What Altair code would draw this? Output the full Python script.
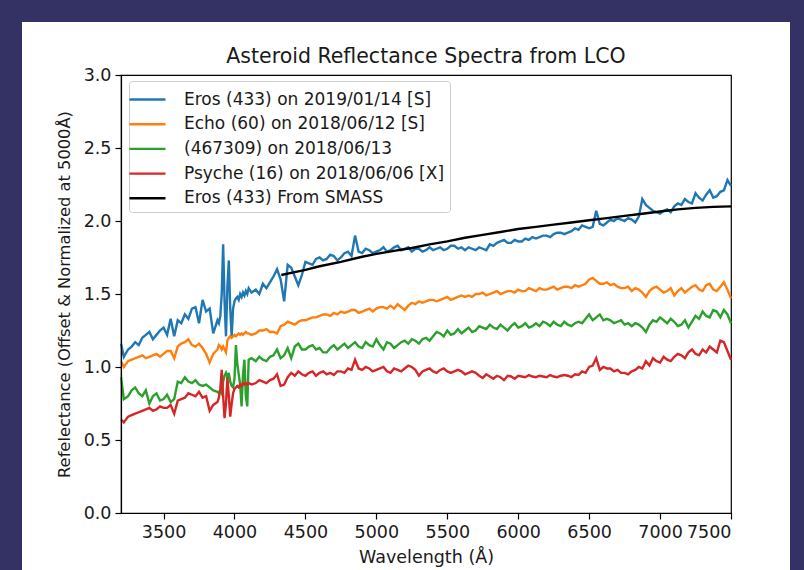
import altair as alt
import pandas as pd

# ---------------- data ----------------
wavelength = [3200, 3220, 3250, 3300, 3350, 3400, 3450, 3500, 3550, 3600, 3650, 3700, 3750, 3800, 3850,
              3880, 3890, 3900, 3910, 3920, 3930, 3940, 3950, 3960, 3970, 3980, 3990, 4000, 4010, 4020,
              4030, 4040, 4050, 4060, 4070, 4080, 4090, 4100,
              4120,
              4150, 4200, 4250, 4300, 4350, 4400, 4450, 4500, 4550, 4600,
              4650, 4700, 4750, 4800, 4850, 4900, 4950, 5000, 5050, 5100,
              5150, 5200, 5250, 5300, 5350, 5400, 5450, 5500, 5550, 5600,
              5650, 5700, 5750, 5800, 5850, 5900, 5950, 6000, 6050, 6100,
              6150, 6200, 6250, 6300, 6350, 6400, 6450, 6500, 6550, 6600,
              6650, 6700, 6750, 6800, 6850, 6900, 6950, 7000, 7050, 7100,
              7150, 7200, 7250, 7300, 7350, 7400, 7450, 7500]

eros = [1.16, 1.07, 1.12, 1.17, 1.20, 1.24, 1.22, 1.27, 1.33, 1.32, 1.36, 1.40, 1.30, 1.38, 1.23,
        1.32, 1.30, 1.35, 1.50, 1.84, 1.45, 1.21, 1.55, 1.73, 1.40, 1.21, 1.40, 1.45, 1.47, 1.48,
        1.46, 1.50, 1.48, 1.51, 1.49, 1.52, 1.50, 1.54,
        1.51,
        1.53, 1.57, 1.58, 1.67, 1.45, 1.68, 1.56, 1.72, 1.70, 1.75,
        1.74, 1.76, 1.75, 1.79, 1.90, 1.78, 1.80, 1.79, 1.82, 1.80,
        1.83, 1.81, 1.79, 1.81, 1.80, 1.80, 1.82, 1.81, 1.83, 1.82,
        1.82, 1.80, 1.81, 1.84, 1.85, 1.87, 1.85, 1.86, 1.88, 1.89,
        1.89, 1.90, 1.91, 1.92, 1.92, 1.95, 1.97, 1.95, 2.07, 1.97,
        2.01, 2.02, 2.00, 2.01, 2.03, 2.11, 2.07, 2.05, 2.08, 2.10,
        2.11, 2.13, 2.19, 2.14, 2.21, 2.17, 2.21, 2.24]

echo = [1.04, 1.00, 1.04, 1.06, 1.08, 1.07, 1.09, 1.09, 1.11, 1.14, 1.17, 1.15, 1.16, 1.09, 1.09,
        1.12, 1.15, 1.14, 1.12, 1.14, 1.12, 1.10, 1.18, 1.20, 1.21, 1.20, 1.21, 1.22, 1.21, 1.22,
        1.23, 1.22, 1.23, 1.22, 1.23, 1.24, 1.23, 1.23,
        1.22,
        1.23, 1.25, 1.24, 1.23, 1.29, 1.30, 1.31, 1.32, 1.34, 1.35,
        1.36, 1.37, 1.38, 1.38, 1.39, 1.38, 1.40, 1.40, 1.41, 1.42,
        1.43, 1.39, 1.44, 1.45, 1.45, 1.46, 1.46, 1.48, 1.47, 1.49,
        1.49, 1.50, 1.51, 1.50, 1.52, 1.51, 1.52, 1.53, 1.52, 1.53,
        1.54, 1.53, 1.55, 1.54, 1.55, 1.56, 1.56, 1.60, 1.59, 1.57,
        1.56, 1.55, 1.54, 1.52, 1.53, 1.48, 1.54, 1.53, 1.52, 1.49,
        1.54, 1.53, 1.56, 1.52, 1.57, 1.52, 1.58, 1.47]

ast_467309 = [0.93, 0.78, 0.80, 0.86, 0.80, 0.75, 0.82, 0.78, 0.76, 0.90, 0.93, 0.89, 0.88, 0.88, 0.84,
              0.83, 0.82, 0.84, 0.82, 0.90, 0.94, 0.96, 0.93, 0.96, 0.90, 0.87, 0.86, 0.92, 1.15, 1.02,
              0.95, 0.88, 0.73, 0.95, 1.05, 0.80, 0.73, 1.05,
              1.06,
              1.04, 1.05, 1.07, 1.12, 1.08, 1.06, 1.16, 1.12, 1.15, 1.13,
              1.10, 1.15, 1.14, 1.13, 1.17, 1.13, 1.15, 1.19, 1.12, 1.16,
              1.15, 1.18, 1.19, 1.16, 1.20, 1.21, 1.23, 1.25, 1.23, 1.23,
              1.27, 1.25, 1.27, 1.29, 1.26, 1.27, 1.28, 1.27, 1.30, 1.28,
              1.28, 1.30, 1.31, 1.28, 1.29, 1.30, 1.30, 1.36, 1.34, 1.32,
              1.32, 1.31, 1.29, 1.28, 1.29, 1.24, 1.32, 1.34, 1.30, 1.31,
              1.29, 1.27, 1.35, 1.38, 1.34, 1.38, 1.39, 1.30]

psyche = [0.64, 0.62, 0.66, 0.68, 0.70, 0.72, 0.71, 0.72, 0.74, 0.77, 0.79, 0.81, 0.83, 0.80, 0.74,
          0.76, 0.79, 0.85, 0.98, 0.80, 0.65, 0.75, 0.93, 0.80, 0.66, 0.75, 0.82, 0.85, 0.86, 0.87,
          0.86, 0.88, 0.87, 0.89, 0.88, 0.89, 0.88, 0.89,
          0.88,
          0.89, 0.90, 0.91, 0.95, 0.88, 0.96, 0.97, 0.94, 0.97, 0.96,
          0.95, 0.945, 0.97, 0.99, 1.05, 0.98, 0.99, 0.98, 1.00, 0.96,
          0.98, 0.99, 1.00, 0.94, 0.98, 0.97, 0.98, 0.97, 0.97, 0.97,
          0.96, 0.96, 0.925, 0.935, 0.94, 0.91, 0.935, 0.94, 0.93, 0.935,
          0.94, 0.93, 0.935, 0.94, 0.94, 0.95, 0.97, 1.00, 1.06, 1.00,
          0.99, 0.98, 0.96, 0.97, 1.00, 1.04, 1.06, 1.03, 1.05, 1.07,
          1.08, 1.10, 1.09, 1.12, 1.14, 1.10, 1.17, 1.05]

# in-between samples (the fine jitter of the spectra)
mid_wavelength = [3275, 3325, 3375, 3425, 3475, 3525, 3575, 3625, 3675, 3725, 3775, 3825,
                  4175, 4225, 4275, 4325, 4375, 4425, 4475, 4525, 4575, 4625,
                  4675, 4725, 4775, 4825, 4875, 4925, 4975, 5025, 5075, 5125,
                  5175, 5225, 5275, 5325, 5375, 5425, 5475, 5525, 5575, 5625,
                  5675, 5725, 5775, 5825, 5875, 5925, 5975, 6025, 6075, 6125,
                  6175, 6225, 6275, 6325, 6375, 6425, 6475, 6525, 6575, 6625,
                  6675, 6725, 6775, 6825, 6875, 6925, 6975, 7025, 7075, 7125,
                  7175, 7225, 7275, 7325, 7375, 7425, 7475]

eros_mid = [1.14, 1.15, 1.22, 1.19, 1.25, 1.22, 1.21, 1.30, 1.33, 1.41, 1.46, 1.40,
            1.50, 1.54, 1.62, 1.60, 1.70, 1.62, 1.63, 1.71, 1.74, 1.73,
            1.77, 1.73, 1.78, 1.76, 1.79, 1.81, 1.78, 1.80, 1.79, 1.82,
            1.80, 1.82, 1.81, 1.79, 1.82, 1.81, 1.80, 1.83, 1.81, 1.80,
            1.81, 1.82, 1.80, 1.83, 1.86, 1.85, 1.87, 1.86, 1.87, 1.88,
            1.90, 1.89, 1.92, 1.91, 1.93, 1.94, 1.96, 1.96, 1.98, 1.99,
            2.00, 2.01, 2.02, 1.99, 2.15, 2.09, 2.06, 2.07, 2.06, 2.12,
            2.15, 2.12, 2.16, 2.18, 2.16, 2.20, 2.28]

echo_mid = [1.05, 1.07, 1.06, 1.08, 1.07, 1.11, 1.06, 1.16, 1.19, 1.14, 1.13, 1.03,
            1.25, 1.26, 1.24, 1.28, 1.31, 1.29, 1.32, 1.33, 1.34, 1.36,
            1.35, 1.36, 1.37, 1.39, 1.37, 1.39, 1.38, 1.41, 1.40, 1.40,
            1.41, 1.42, 1.43, 1.44, 1.46, 1.45, 1.47, 1.46, 1.48, 1.48,
            1.48, 1.50, 1.49, 1.51, 1.50, 1.52, 1.51, 1.52, 1.54, 1.52,
            1.53, 1.54, 1.53, 1.55, 1.54, 1.55, 1.57, 1.61, 1.57, 1.58,
            1.57, 1.54, 1.55, 1.54, 1.51, 1.52, 1.55, 1.51, 1.54, 1.52,
            1.51, 1.55, 1.53, 1.56, 1.53, 1.55, 1.53]

ast_467309_mid = [0.84, 0.82, 0.84, 0.80, 0.77, 0.81, 0.78, 0.89, 0.90, 0.91, 0.87, 0.86,
                  1.07, 1.04, 1.08, 1.06, 1.13, 1.14, 1.12, 1.14, 1.12, 1.10,
                  1.13, 1.12, 1.16, 1.15, 1.14, 1.17, 1.14, 1.15, 1.17, 1.13,
                  1.17, 1.16, 1.18, 1.19, 1.18, 1.24, 1.21, 1.22, 1.26, 1.25,
                  1.24, 1.28, 1.26, 1.27, 1.29, 1.25, 1.30, 1.28, 1.27, 1.30,
                  1.31, 1.28, 1.29, 1.31, 1.28, 1.31, 1.33, 1.32, 1.36, 1.33,
                  1.30, 1.32, 1.30, 1.30, 1.27, 1.29, 1.31, 1.32, 1.33, 1.28,
                  1.32, 1.31, 1.33, 1.35, 1.39, 1.34, 1.36]

psyche_mid = [0.67, 0.69, 0.71, 0.70, 0.73, 0.72, 0.68, 0.78, 0.82, 0.80, 0.79, 0.70,
              0.91, 0.89, 0.92, 0.87, 0.93, 0.94, 0.95, 0.96, 0.94, 0.97,
              0.96, 0.97, 0.96, 0.98, 0.99, 1.00, 0.97, 0.99, 0.97, 0.99,
              0.97, 1.01, 0.98, 0.97, 0.99, 0.96, 0.99, 0.96, 0.98, 0.95,
              0.97, 0.94, 0.95, 0.92, 0.93, 0.94, 0.92, 0.935, 0.945, 0.93,
              0.935, 0.945, 0.93, 0.945, 0.93, 0.945, 0.96, 1.01, 0.98, 0.99,
              0.97, 0.96, 0.95, 0.98, 0.99, 1.01, 1.04, 1.07, 1.04, 1.09,
              1.06, 1.12, 1.08, 1.10, 1.12, 1.18, 1.11]

smass_wavelength = [4330, 4400, 4500, 4600, 4750, 4900, 5000, 5125, 5250, 5375, 5500, 5625,
                    5750, 5875, 6000, 6125, 6250, 6375, 6500, 6625, 6750, 6875, 7000, 7125,
                    7250, 7375, 7500]
smass_eros = [1.63, 1.645, 1.665, 1.69, 1.72, 1.755, 1.775, 1.795, 1.815, 1.84, 1.86, 1.885,
              1.905, 1.925, 1.945, 1.96, 1.975, 1.99, 2.005, 2.02, 2.035, 2.05, 2.065, 2.08,
              2.09, 2.097, 2.10]

series_names = ["Eros (433) on 2019/01/14 [S]", "Echo (60) on 2018/06/12 [S]",
                "(467309) on 2018/06/13", "Psyche (16) on 2018/06/06 [X]",
                "Eros (433) From SMASS"]
series_colors = ["#1f77b4", "#ff7f0e", "#2ca02c", "#d62728", "#000000"]

x_ticks = [3500, 4000, 4500, 5000, 5500, 6000, 6500, 7000, 7500]
y_ticks = [0.0, 0.5, 1.0, 1.5, 2.0, 2.5, 3.0]

for s in (eros, echo, ast_467309, psyche):
    assert len(s) == len(wavelength), len(s)
for s in (eros_mid, echo_mid, ast_467309_mid, psyche_mid):
    assert len(s) == len(mid_wavelength), len(s)
assert len(smass_eros) == len(smass_wavelength)

# ---------------- tables ----------------
rows = []
pairs = [(eros, eros_mid), (echo, echo_mid), (ast_467309, ast_467309_mid), (psyche, psyche_mid)]
for k, (main_vals, mid_vals) in enumerate(pairs):
    for w, v in zip(wavelength, main_vals):
        rows.append({"wavelength": w, "value": v, "series": series_names[k], "k": k})
    for w, v in zip(mid_wavelength, mid_vals):
        rows.append({"wavelength": w, "value": v, "series": series_names[k], "k": k})
lco = pd.DataFrame(rows).sort_values(["k", "wavelength"])
smass = pd.DataFrame({"wavelength": smass_wavelength, "value": smass_eros,
                      "series": series_names[4], "k": 4})

FONT = "DejaVu Sans"
FS = 17.5
W, H = 610, 438
PAD_L, PAD_T, PAD_R, PAD_B = 121, 75, 73, 57
NAVY = "#343264"

color = alt.Color(
    "series:N",
    scale=alt.Scale(domain=series_names, range=series_colors),
    legend=alt.Legend(
        title=None, orient="none", legendX=8, legendY=6,
        symbolType="M-1.5,0H1.5", symbolSize=576, symbolStrokeWidth=2.4,
        labelOffset=23, rowPadding=2.7, padding=5,
        fillColor="white", strokeColor="#cccccc", cornerRadius=3,
        labelFont=FONT, labelFontSize=17, labelColor="#1a1a1a", labelLimit=0,
        zindex=1,
    ),
)

x_enc = alt.X(
    "wavelength:Q",
    scale=alt.Scale(domain=[3200, 7500], nice=False, zero=False),
    axis=alt.Axis(values=x_ticks, title="Wavelength (Å)", grid=False, format="d",
                  tickSize=6, labelPadding=4, titlePadding=8, zindex=1),
)
y_enc = alt.Y(
    "value:Q",
    scale=alt.Scale(domain=[0, 3], nice=False, zero=False),
    axis=alt.Axis(values=y_ticks, format=".1f", grid=False,
                  title="Refelectance (Offset & Normalized at 5000Å)", titleFontSize=16.3,
                  tickSize=6, labelPadding=4, titlePadding=11, zindex=1),
)

lines = alt.Chart(lco).mark_line(strokeWidth=2.4).encode(
    x=x_enc, y=y_enc, color=color, detail="k:O"
)
smass_line = alt.Chart(smass).mark_line(strokeWidth=2.4).encode(
    x="wavelength:Q", y="value:Q", color=color
)

# dark frame around the white figure (decoration)
left_strip = alt.Chart(alt.Data(values=[{}])).mark_rect(color=NAVY).encode(
    x=alt.value(-PAD_L), x2=alt.value(-PAD_L + 22), y=alt.value(-PAD_T), y2=alt.value(H + PAD_B))
top_strip = alt.Chart(alt.Data(values=[{}])).mark_rect(color=NAVY).encode(
    x=alt.value(-PAD_L), x2=alt.value(W + PAD_R), y=alt.value(-PAD_T), y2=alt.value(-PAD_T + 22))
right_strip = alt.Chart(alt.Data(values=[{}])).mark_rect(color=NAVY).encode(
    x=alt.value(669), x2=alt.value(W + PAD_R), y=alt.value(-PAD_T), y2=alt.value(H + PAD_B))

chart = alt.layer(lines, smass_line, left_strip, top_strip, right_strip).properties(
    width=W, height=H,
    padding={"left": PAD_L, "top": PAD_T, "right": PAD_R, "bottom": PAD_B},
    autosize=alt.AutoSizeParams(type="none"),
    background="white",
    title=alt.TitleParams("Asteroid Reflectance Spectra from LCO", font=FONT, fontSize=20.5,
                          fontWeight="normal", color="#1a1a1a", offset=-67, frame="group",
                          anchor="middle", zindex=1),
).configure_view(
    stroke="black", strokeWidth=1.2
).configure_axis(
    labelFont=FONT, titleFont=FONT, labelFontSize=FS, titleFontSize=FS,
    titleFontWeight="normal", labelColor="#1a1a1a", titleColor="#1a1a1a",
    domainColor="black", tickColor="black", domainWidth=1.2, tickWidth=1.2,
)

chart.save("out.html", embed_options={"renderer": "svg", "actions": False})
